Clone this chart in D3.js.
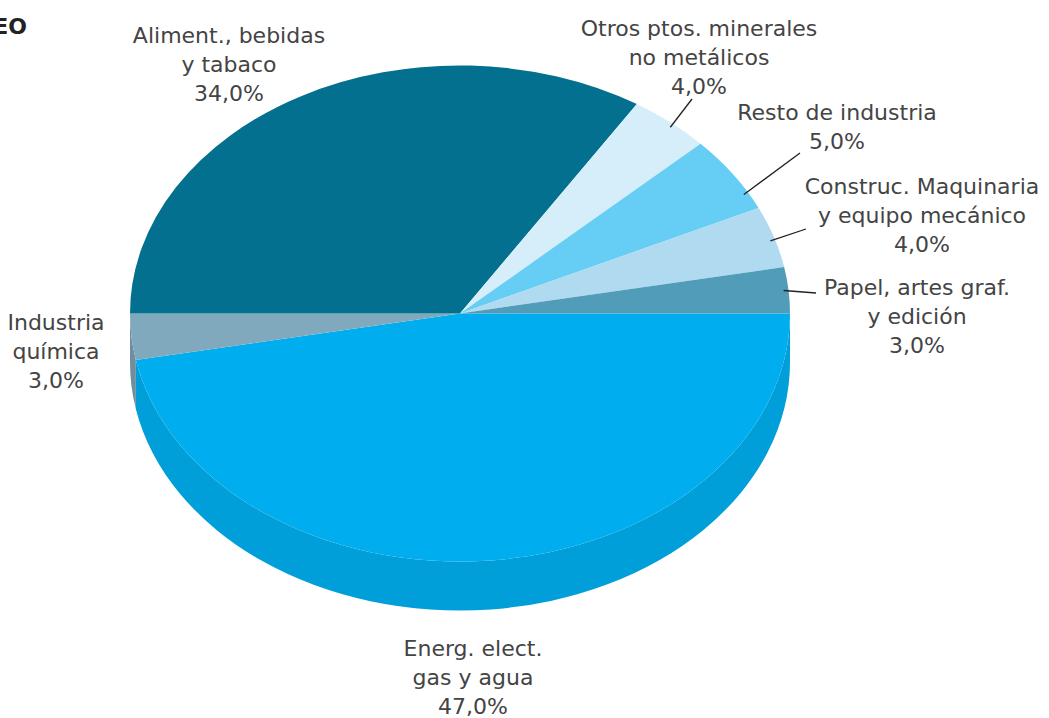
<!DOCTYPE html>
<html>
<head>
<meta charset="utf-8">
<script src="https://cdn.jsdelivr.net/npm/d3@7"></script>
<style>
  html, body { margin: 0; padding: 0; background: #fff; }
  svg { display: block; }
  text { font-family: "DejaVu Sans", sans-serif; fill: #444; }
</style>
</head>
<body>
<svg id="chart" width="1049" height="718"></svg>
<script>
// ---- data ----
const categories = [
  "Energ. elect. gas y agua",
  "Industria química",
  "Aliment., bebidas y tabaco",
  "Otros ptos. minerales no metálicos",
  "Resto de industria",
  "Construc. Maquinaria y equipo mecánico",
  "Papel, artes graf. y edición"
];
const values = [47.0, 3.0, 34.0, 4.0, 5.0, 4.0, 3.0];
const labelLines = [
  ["Energ. elect.", "gas y agua"],
  ["Industria", "química"],
  ["Aliment., bebidas", "y tabaco"],
  ["Otros ptos. minerales", "no metálicos"],
  ["Resto de industria"],
  ["Construc. Maquinaria", "y equipo mecánico"],
  ["Papel, artes graf.", "y edición"]
];
const titleText = "EO";

// ---- style / layout ----
const topColors  = ["#00adee", "#80a9be", "#04708f", "#d5eef9", "#66cdf4", "#b0daf0", "#509cb9"];
const sideColors = ["#009fd9", "#6f8e9e", "#035e79", "#b5cfdb", "#56afd0", "#95b9cc", "#44849d"];
// label block: center x, first baseline y, leader end (x,y) or null, leader start fraction within slice
const labelLayout = [
  { x: 473, y: 656, leader: null },
  { x: 56,  y: 330, leader: null },
  { x: 229, y: 43,  leader: null },
  { x: 699, y: 36,  leader: [692, 99],  frac: 0.55 },
  { x: 837, y: 120, leader: [800, 153], frac: 0.78 },
  { x: 922, y: 194, leader: [806, 229], frac: 0.55 },
  { x: 917, y: 295, leader: [816, 293], frac: 0.5 }
];
const cx = 460, cy = 313.5, rx = 330, ry = 248, depth = 49;
const lineH = 29;

const svg = d3.select("#chart");

const fmt = v => d3.format(".1f")(v).replace(".", ",") + "%";

const pie = d3.pie().sort(null).value(d => d.value)
  .startAngle(Math.PI / 2).endAngle(Math.PI / 2 + 2 * Math.PI);
const data = categories.map((c, i) => ({ name: c, value: values[i], i }));
const arcs = pie(data);

// param angle t: 0 = east, increasing clockwise on screen
const toT = a => a - Math.PI / 2;
const px = t => cx + rx * Math.cos(t);
const py = (t, dy = 0) => cy + ry * Math.sin(t) + dy;

function topPath(t0, t1) {
  const large = (t1 - t0) > Math.PI ? 1 : 0;
  return `M${cx},${cy}L${px(t0)},${py(t0)}A${rx},${ry} 0 ${large} 1 ${px(t1)},${py(t1)}Z`;
}
function sidePath(t0, t1) {
  const a = Math.max(t0, 0), b = Math.min(t1, Math.PI);
  if (b <= a) return null;
  return `M${px(a)},${py(a)}A${rx},${ry} 0 0 1 ${px(b)},${py(b)}` +
         `L${px(b)},${py(b, depth)}A${rx},${ry} 0 0 0 ${px(a)},${py(a, depth)}Z`;
}

// sides
const gSide = svg.append("g");
arcs.forEach(d => {
  const p = sidePath(toT(d.startAngle), toT(d.endAngle));
  if (p) gSide.append("path").attr("d", p).attr("fill", sideColors[d.data.i]);
});

// tops
svg.append("g").selectAll("path").data(arcs).join("path")
  .attr("d", d => topPath(toT(d.startAngle), toT(d.endAngle)))
  .attr("fill", d => topColors[d.data.i]);

// leader lines
arcs.forEach(d => {
  const L = labelLayout[d.data.i];
  if (!L.leader) return;
  const tm = toT(d.startAngle + (d.endAngle - d.startAngle) * L.frac);
  svg.append("line")
    .attr("x1", cx + rx * 0.985 * Math.cos(tm)).attr("y1", cy + ry * 0.985 * Math.sin(tm))
    .attr("x2", L.leader[0]).attr("y2", L.leader[1])
    .attr("stroke", "#222").attr("stroke-width", 1.3);
});

// labels
arcs.forEach(d => {
  const L = labelLayout[d.data.i];
  const lines = labelLines[d.data.i].concat([fmt(d.data.value)]);
  const t = svg.append("text").attr("text-anchor", "middle").attr("font-size", 22);
  lines.forEach((s, k) => {
    t.append("tspan").attr("x", L.x).attr("y", L.y + k * lineH).text(s);
  });
});

// truncated title
svg.append("text").attr("x", 27).attr("y", 34).attr("text-anchor", "end")
  .attr("font-size", 22).attr("font-weight", "bold").style("fill", "#222")
  .text(titleText);
</script>
</body>
</html>
